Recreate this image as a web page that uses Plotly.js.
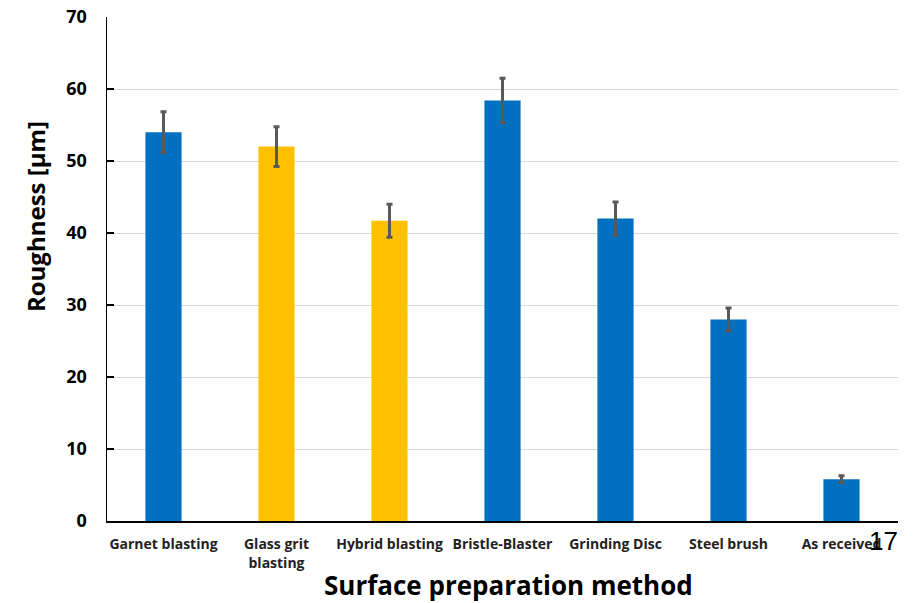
<!DOCTYPE html>
<html>
<head>
<meta charset="utf-8">
<script src="https://cdn.plot.ly/plotly-3.0.1.min.js"></script>
<style>html,body{margin:0;padding:0;background:#fff;}#chart{width:923px;height:603px;}</style>
</head>
<body>
<div id="chart"></div>
<script>
const categories = ["Garnet blasting", "Glass grit<br>blasting", "Hybrid blasting", "Bristle-Blaster", "Grinding Disc", "Steel brush", "As received"];
const roughness = [54.0, 52.0, 41.7, 58.4, 42.0, 28.0, 5.8];
const errors = [2.85, 2.75, 2.3, 3.1, 2.3, 1.6, 0.5];
const barColors = ["#0070C0", "#FFC000", "#FFC000", "#0070C0", "#0070C0", "#0070C0", "#0070C0"];
const yTicks = [0, 10, 20, 30, 40, 50, 60, 70];
const xTitle = "Surface preparation method";
const yTitle = "Roughness [µm]";
const pageNumber = "17";

const trace = {
  type: "bar",
  x: categories,
  y: roughness,
  marker: {color: barColors, line: {width: 0}},
  error_y: {type: "data", array: errors, visible: true, color: "#595959", thickness: 3, width: 3},
  hoverinfo: "none"
};

const font = "'Open Sans', 'Noto Sans', sans-serif";
const layout = {
  width: 923, height: 603,
  margin: {l: 107, r: 25, t: 17, b: 82},
  paper_bgcolor: "#fff", plot_bgcolor: "#fff",
  bargap: 0.68,
  showlegend: false,
  font: {family: font, color: "#000"},
  xaxis: {
    type: "category",
    showline: true, linecolor: "#000", linewidth: 1.5,
    ticks: "", showgrid: false,
    tickfont: {family: font, size: 14, color: "#222", weight: "bold"},
    ticklabelstandoff: 10
  },
  yaxis: {
    range: [0, 70],
    tickvals: yTicks,
    showline: true, linecolor: "#000", linewidth: 1.5,
    ticks: "inside", ticklen: 7, tickcolor: "#000", tickwidth: 1.5,
    showgrid: true, gridcolor: "#d9d9d9", gridwidth: 1,
    zeroline: false,
    tickfont: {family: font, size: 18, color: "#000", weight: "bold"},
    ticklabelstandoff: 15
  },
  annotations: [
    {
      text: "<b>" + xTitle + "</b>", xref: "paper", yref: "paper", x: 0.508, y: -0.127,
      xanchor: "center", yanchor: "middle", showarrow: false,
      font: {family: font, size: 26, color: "#000"}
    },
    {
      text: "<b>" + yTitle + "</b>", xref: "paper", yref: "paper", x: -0.091, y: 0.603,
      xanchor: "center", yanchor: "middle", textangle: -90, showarrow: false,
      font: {family: font, size: 24, color: "#000"}
    },
    {
      text: pageNumber, xref: "paper", yref: "paper", x: 1.003, y: -0.006, xanchor: "right", yanchor: "top",
      showarrow: false, font: {family: "'Liberation Sans', sans-serif", size: 26, color: "#000"}
    }
  ]
};

Plotly.newPlot("chart", [trace], layout, {displayModeBar: false, staticPlot: true});
</script>
</body>
</html>
